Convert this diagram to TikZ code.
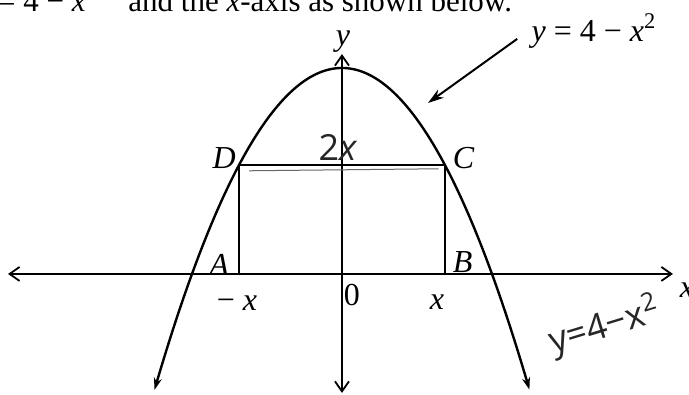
\documentclass[tikz,border=0pt]{standalone}
\usepackage{fontspec}
\setmainfont{Liberation Serif}
\newfontfamily\handfont{Open Sans}
\usetikzlibrary{arrows.meta,positioning}

\begin{document}
\begin{tikzpicture}[x=37.5pt,y=25.75pt,
  lbl/.style={inner sep=1pt,font=\fontsize{16}{18}\selectfont},
  ticklbl/.style={inner sep=1pt,font=\fontsize{16}{18}\selectfont},
  hand/.style={inner sep=0pt,font=\handfont\fontsize{18}{20}\selectfont,text=black!85},
  axisline/.style={line width=0.9pt,{Straight Barb[length=5pt,width=7pt]}-{Straight Barb[length=5pt,width=7pt]}},
  curveline/.style={line width=1.2pt,{Stealth[length=6pt,width=4pt]}-{Stealth[length=6pt,width=4pt]}},
  pointer/.style={line width=1pt,-{Stealth[length=8pt,width=5pt]}}]
  \useasboundingbox (-4.56,-2.35) rectangle (4.627,5.32);
  \clip (-4.56,-2.35) rectangle (4.627,5.32);

  % end points of the axes
  \coordinate (xl) at (-4.453,0);
  \coordinate (xr) at (4.413,0);
  \coordinate (yb) at (0,-2.31);
  \coordinate (yt) at (0,4.27);

  % corners of the rectangle
  \coordinate (A) at (-1.37,0);
  \coordinate (B) at (1.37,0);
  \coordinate (C) at (1.37,2.12);
  \coordinate (D) at (-1.37,2.12);

  \node[anchor=base west,inner sep=0pt,font=\fontsize{15.5}{17}\selectfont] (intro) at (-4.59,5.1) {= 4 − \textit{x}\textsuperscript{2}\quad and the \textit{x}-axis as shown below.};

  \draw[axisline] (xl) -- (xr);
  \draw[axisline] (yb) -- (yt);
  \draw[curveline] plot[domain=-2.5:2.5,samples=80,smooth] (\x,{4-\x*\x});
  \draw[line width=1.2pt] (A) -- (B) -- (C) -- (D) -- cycle;
  \draw[black!60,line width=0.5pt] ([xshift=5pt,yshift=-3pt]D) -- ([xshift=-3pt,yshift=-2pt]C);

  \node[lbl] (labD) at ([xshift=-7.5pt,yshift=3.5pt]D) {\textit{D}};
  \node[lbl] (labC) at ([xshift=9.5pt,yshift=3.5pt]C) {\textit{C}};
  \node[lbl] (labA) at ([xshift=-10pt,yshift=4.5pt]A) {\textit{A}};
  \node[lbl] (labB) at ([xshift=9pt,yshift=6pt]B) {\textit{B}};

  \node[ticklbl] (mx) at (-1.4,-0.563) {− \textit{x}};
  \node[ticklbl] (zero) at (0.133,-0.41) {0};
  \node[ticklbl] (px) at (1.267,-0.544) {\textit{x}};
  \node[lbl] (xlab) at (4.6,-0.31) {\textit{x}};
  \node[lbl] (ylab) at (0.013,4.52) {\textit{y}};

  \node[lbl] (eqn) at (3.36,4.72) {\textit{y} = 4 − \textit{x}\textsuperscript{2}};
  \coordinate (hit) at (1.147,3.32);
  \draw[pointer] ([xshift=-6pt,yshift=-4pt]eqn.west) -- (hit);

  \node[hand] (twox) at (-0.053,2.447) {2\textit{x}};
  \node[hand,rotate=17] (scrawl) at (3.5,-1.02) {y=4−x\textsuperscript{2}};
\end{tikzpicture}
\end{document}
